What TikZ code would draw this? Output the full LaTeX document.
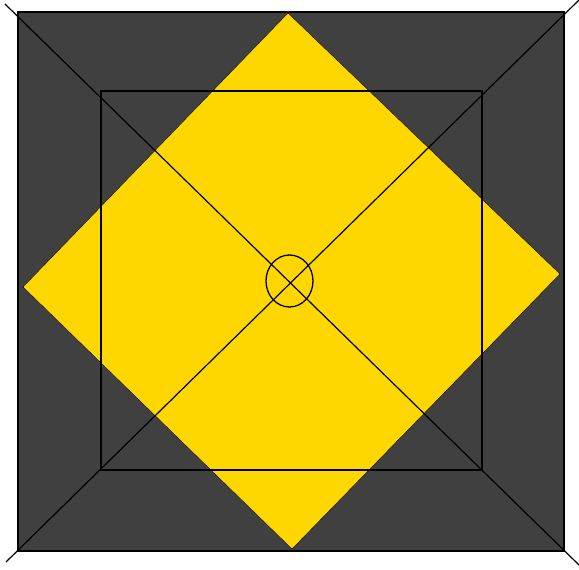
\documentclass[tikz,border=0pt]{standalone}
\definecolor{darkfill}{RGB}{64,64,64}
\definecolor{gold}{RGB}{255,215,0}
\begin{document}
\begin{tikzpicture}[x=1pt, y=-1pt]
    \useasboundingbox (0,0) rectangle (579,570);

    % outer square
    \coordinate (TL) at (18,12);
    \coordinate (BR) at (564,551);
    \fill[darkfill] (TL) rectangle (BR);

    % rotated yellow square
    \coordinate (Dt) at (288,13);
    \coordinate (Dl) at (23,287);
    \coordinate (Db) at (292,549);
    \coordinate (Dr) at (560,274);
    \fill[gold, draw=black, line width=0.4pt] (Dt) -- (Dl) -- (Db) -- (Dr) -- cycle;

    % border of the outer square
    \draw[line width=2pt] (TL) rectangle (BR);

    % inner square
    \draw[line width=1.6pt] (101,91) rectangle (482,470);

    % the two diagonals, a little past the corners
    \coordinate (A1) at (5,4);
    \coordinate (A2) at (579,565);
    \coordinate (B1) at (579,0);
    \coordinate (B2) at (6,562);
    \draw[line width=1.2pt] (A1) -- (A2);
    \draw[line width=1.2pt] (B1) -- (B2);

    % small circle at the centre
    \coordinate (C) at (289.5,281);
    \draw[line width=1.3pt] (C) ellipse (23.5 and 26);
\end{tikzpicture}
\end{document}
